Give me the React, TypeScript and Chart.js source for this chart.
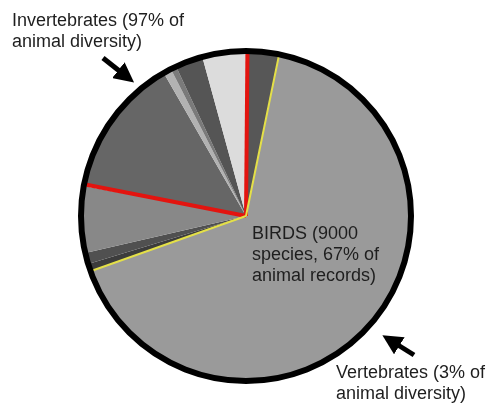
import React, { useEffect, useRef } from "react";
import { Chart, registerables } from "chart.js";

Chart.register(...registerables);

// Slice shares of animal records (%), clockwise from the top red line
const groups = [
  "Invertebrates A",
  "BIRDS",
  "Mammals",
  "Reptiles",
  "Fish",
  "Amphibians",
  "Insects",
  "Molluscs",
  "Crustaceans",
  "Arachnids",
  "Other invertebrates",
];
const records = [3.08, 66.3, 0.75, 1.1, 6.5, 0.17, 13.6, 0.78, 0.56, 2.7, 4.4];
const sliceColors = [
  "#575757",
  "#9a9a9a",
  "#3c3c3c",
  "#505050",
  "#888888",
  "#d2c8c8",
  "#666666",
  "#b2b2b2",
  "#7a7a7a",
  "#555555",
  "#dcdcdc",
];
// boundaries drawn as highlighted radial lines (at the start of the given slice)
const boundaryIndex = [0, 6, 1, 2];
const boundaryColor = ["#e3140f", "#e3140f", "#e4e048", "#e4e048"];
const boundaryWidth = [4, 4, 2, 2];

const invertLabel = ["Invertebrates (97% of", "animal diversity)"];
const vertLabel = ["Vertebrates (3% of", "animal diversity)"];
const birdLabel = ["BIRDS (9000", "species, 67% of", "animal records)"];

const edgePlugin = {
  id: "edges",
  afterDatasetsDraw(chart: any) {
    const meta = chart.getDatasetMeta(0);
    const ctx = chart.ctx;
    ctx.save();
    ctx.lineCap = "butt";
    boundaryIndex.forEach((idx, i) => {
      const arc = meta.data[idx];
      if (!arc) return;
      const p = arc.getProps(["x", "y", "startAngle", "outerRadius"], true);
      ctx.beginPath();
      ctx.strokeStyle = boundaryColor[i];
      ctx.lineWidth = boundaryWidth[i];
      ctx.moveTo(p.x, p.y);
      ctx.lineTo(
        p.x + Math.cos(p.startAngle) * p.outerRadius,
        p.y + Math.sin(p.startAngle) * p.outerRadius
      );
      ctx.stroke();
    });
    const a0 = meta.data[0];
    if (a0) {
      const p = a0.getProps(["x", "y", "outerRadius"], true);
      ctx.beginPath();
      ctx.strokeStyle = "#000";
      ctx.lineWidth = 6;
      ctx.arc(p.x, p.y, p.outerRadius, 0, Math.PI * 2);
      ctx.stroke();
    }
    ctx.restore();
  },
};

export default function App() {
  const ref = useRef<HTMLCanvasElement | null>(null);
  useEffect(() => {
    if (!ref.current) return;
    const chart = new Chart(ref.current, {
      type: "pie",
      data: {
        labels: groups,
        datasets: [
          {
            data: records,
            backgroundColor: sliceColors,
            borderWidth: 0,
            hoverOffset: 0,
            offset: 0,
          },
        ],
      },
      options: {
        animation: false,
        responsive: false,
        rotation: 0.5,
        layout: { padding: { left: 81, right: 76, top: 51, bottom: 23 } },
        plugins: {
          legend: { display: false },
          tooltip: { enabled: false },
        },
        events: [],
      },
      plugins: [edgePlugin],
    });
    return () => chart.destroy();
  }, []);

  const textStyle: React.CSSProperties = {
    position: "absolute",
    fontFamily: "'Liberation Sans', Arial, sans-serif",
    fontSize: 18,
    lineHeight: "21px",
    color: "#1e1e1e",
    whiteSpace: "nowrap",
  };

  return (
    <div
      style={{
        position: "fixed",
        left: 0,
        top: 0,
        width: 487,
        height: 404,
        background: "#fff",
        overflow: "hidden",
      }}
    >
      <canvas ref={ref} width={487} height={404} style={{ position: "absolute", left: 0, top: 0 }} />
      <svg width={487} height={404} style={{ position: "absolute", left: 0, top: 0 }}>
        <defs>
          <marker id="ah" markerWidth="4" markerHeight="4" refX="2.2" refY="2" orient="auto" markerUnits="strokeWidth">
            <path d="M0,0 L4,2 L0,4 z" fill="#000" />
          </marker>
        </defs>
        <line x1={103} y1={58} x2={127} y2={77} stroke="#000" strokeWidth={5} markerEnd="url(#ah)" />
        <line x1={414} y1={355} x2={390} y2={340} stroke="#000" strokeWidth={5} markerEnd="url(#ah)" />
      </svg>
      <div style={{ ...textStyle, left: 12, top: 10 }}>
        {invertLabel.map((t, i) => (
          <div key={i}>{t}</div>
        ))}
      </div>
      <div style={{ ...textStyle, left: 252, top: 223 }}>
        {birdLabel.map((t, i) => (
          <div key={i}>{t}</div>
        ))}
      </div>
      <div style={{ ...textStyle, left: 336, top: 362 }}>
        {vertLabel.map((t, i) => (
          <div key={i}>{t}</div>
        ))}
      </div>
    </div>
  );
}
